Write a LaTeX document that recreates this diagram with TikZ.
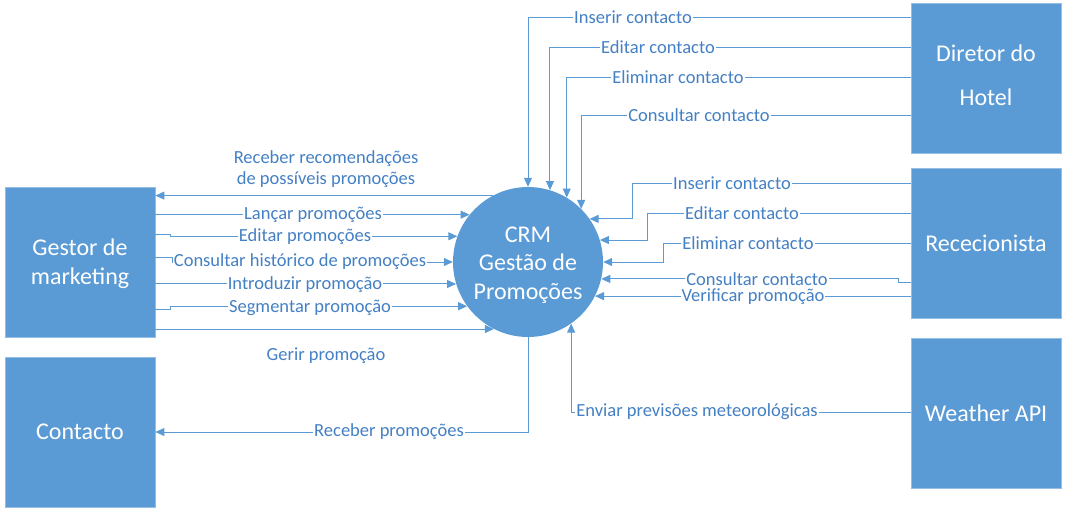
\documentclass[tikz,border=0pt]{standalone}
\usepackage{fontspec}
\setmainfont{Carlito}
\usetikzlibrary{arrows.meta}
\definecolor{boxblue}{RGB}{91,155,213}
\definecolor{lineblue}{RGB}{91,155,213}
\definecolor{txtblue}{RGB}{68,128,196}
\tikzset{
  entity/.style={fill=boxblue, draw={rgb,255:red,150;green,190;blue,228}, line width=0.8pt, minimum width=150pt, minimum height=150pt, text=white, align=center, font=\fontsize{24}{29}\selectfont, inner sep=0pt},
  entitytext/.style={text=white, align=center, font=\fontsize{24}{29}\selectfont, inner sep=0pt},
  process/.style={circle, fill=boxblue, minimum size=150pt, inner sep=0pt},
  flow/.style={draw=lineblue, line width=1pt, -{Triangle[length=9pt,width=8pt]}},
  lbl/.style={fill=white, text=txtblue, font=\fontsize{18.5}{21}\selectfont, inner sep=1pt},
  lblfree/.style={text=txtblue, font=\fontsize{18.5}{21}\selectfont, inner sep=1pt, align=center}
}
\begin{document}
\begin{tikzpicture}[x=1pt,y=-1pt]
\useasboundingbox (0,0) rectangle (1067,515);
% entities
\node[entity, label={[entitytext, yshift=-2pt]center:{Gestor de\\marketing}}] (gm) at (80,262) {};
\node[entity] (con) at (80,432) {Contacto};
\node[entity, label={[entitytext, font=\fontsize{24}{44}\selectfont, yshift=3pt]center:{Diretor do\\Hotel}}] (dir) at (986,78) {};
\node[entity] (rec) at (986,243) {Rececionista};
\node[entity] (wapi) at (986,413) {Weather API};
\node[process, label={[entitytext, font=\fontsize{24}{28.5}\selectfont, yshift=-3pt]center:{CRM\\Gestão de\\Promoções}}] (crm) at (528,262) {};
% Diretor do Hotel flows
\draw[flow] (dir.west |- 0,17) -| (crm.north);
\draw[flow] (dir.west |- 0,47) -| (crm.73.7);
\draw[flow] (dir.west |- 0,77) -| (crm.59.5);
\draw[flow] (dir.west |- 0,115) -| (crm.45);
% Rececionista flows
\draw[flow] (rec.west |- 0,183) -- (632,183) |- (crm.35);
\draw[flow] (rec.west |- 0,213) -- (647,213) |- (crm.17.9);
\draw[flow] (rec.west |- 0,243) -- (663,243) |- (crm.0);
\draw[flow] (rec.west |- 0,282) -- (898,282) |- (crm.-13.1);
\draw[flow] (rec.west |- crm.-27.8) -- (crm.-27.8);
% Weather API
\draw[flow] (wapi.west |- 0,412) -| (crm.305.9);
% Gestor de marketing flows
\draw[flow] (crm.118.4) -- (gm.east |- crm.118.4);
\draw[flow] (gm.east |- crm.141.2) -- (crm.141.2);
\draw[flow] (gm.east |- 0,234) -- (170,234) |- (crm.160.5);
\draw[flow] (gm.east |- 0,257) -- (172,257) |- (crm.west);
\draw[flow] (gm.east |- crm.197.9) -- (crm.197.9);
\draw[flow] (gm.east |- 0,309) -- (170,309) |- (crm.216.9);
\draw[flow] (gm.east |- crm.243.3) -- (crm.243.3);
% Contacto
\draw[flow] (crm.south) |- (con.east |- 0,432);
% labels
\node[lbl] (l1) at (633,17) {Inserir contacto};
\node[lbl] (l2) at (658,47) {Editar contacto};
\node[lbl] (l3) at (678,77) {Eliminar contacto};
\node[lbl] (l4) at (699,115) {Consultar contacto};
\node[lbl] (l5) at (732,183) {Inserir contacto};
\node[lbl] (l6) at (742,213) {Editar contacto};
\node[lbl] (l7) at (748,243) {Eliminar contacto};
\node[lbl] (l8) at (757,279) {Consultar contacto};
\node[lbl] (l9) at (753,297) {Verificar promoção};
\node[lbl] (l10) at (697,412) {Enviar previsões meteorológicas};
\node[lbl] (l11) at (389,432) {Receber promoções};
\node[lblfree] (l12) at (326,356) {Gerir promoção};
\node[lblfree] (l13) at (326,169) {Receber recomendações\\de possíveis promoções};
\node[lbl] (l14) at (313,215) {Lançar promoções};
\node[lbl] (l15) at (305,237) {Editar promoções};
\node[lbl] (l16) at (300,262) {Consultar histórico de promoções};
\node[lbl] (l17) at (305,285) {Introduzir promoção};
\node[lbl] (l18) at (310,308) {Segmentar promoção};
\end{tikzpicture}
\end{document}
